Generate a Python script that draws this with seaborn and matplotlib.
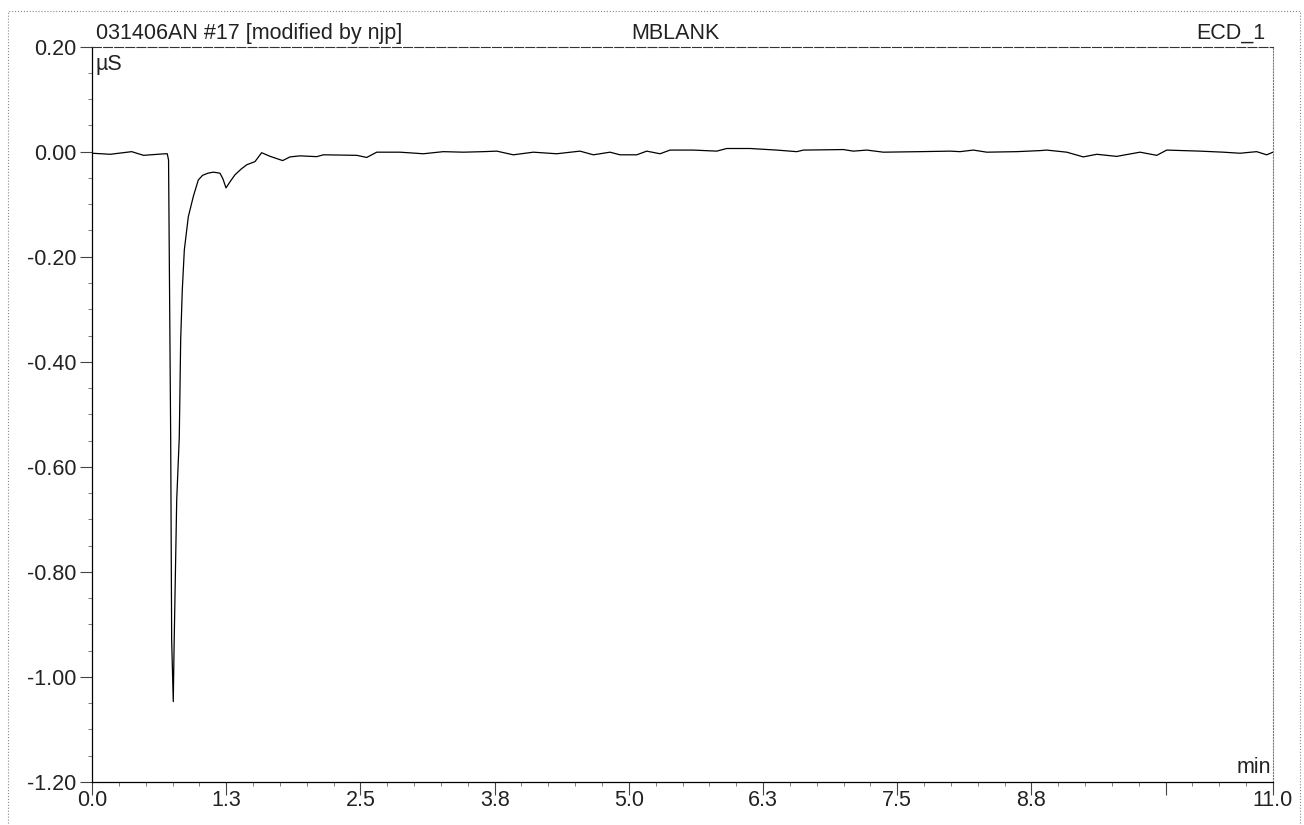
import numpy as np
import pandas as pd
import matplotlib
matplotlib.use("Agg")
import matplotlib.pyplot as plt
import seaborn as sns
from matplotlib.patches import Rectangle
from matplotlib.ticker import FixedLocator, MultipleLocator

# Chromatogram trace (time in min, signal in uS)
time_min = [
    0.00, 0.17, 0.37, 0.48, 0.68, 0.701, 0.713, 0.733, 0.742, 0.757,
    0.764, 0.789, 0.813, 0.826, 0.841, 0.860, 0.897, 0.944, 0.990, 1.030,
    1.080, 1.130, 1.192, 1.220, 1.248, 1.290, 1.332, 1.390, 1.441, 1.518,
    1.580, 1.660, 1.776, 1.844, 1.937,
    2.093, 2.155, 2.466, 2.559, 2.652, 2.869, 3.086, 3.272, 3.459, 3.645,
    3.770, 3.924, 4.111, 4.328, 4.545, 4.670, 4.825, 4.918, 4.949, 5.074,
    5.167, 5.291, 5.384, 5.601, 5.819, 5.912, 6.129, 6.378, 6.564, 6.626,
    6.998, 7.091, 7.216, 7.371, 7.713, 7.992, 8.085, 8.209, 8.334, 8.613,
    8.830, 8.892, 9.079, 9.233, 9.358, 9.544, 9.761, 9.917, 10.010, 10.320,
    10.537, 10.693, 10.848, 10.941, 11.000,
]
signal_us = [
    -0.003, -0.005, 0.000, -0.007, -0.004, -0.004, -0.016, -0.549, -0.930, -1.047,
    -0.949, -0.663, -0.543, -0.358, -0.263, -0.187, -0.124, -0.085, -0.054, -0.045,
    -0.041, -0.039, -0.041, -0.052, -0.069, -0.056, -0.044, -0.033, -0.025, -0.019,
    -0.002, -0.009, -0.017, -0.010, -0.008,
    -0.0095, -0.006, -0.007, -0.011, -0.001, -0.001, -0.004, 0.000, -0.001, 0.000,
    0.001, -0.006, -0.001, -0.004, 0.001, -0.006, -0.001, -0.006, -0.006, -0.006,
    0.001, -0.004, 0.003, 0.003, 0.001, 0.006, 0.006, 0.003, 0.000, 0.003,
    0.004, 0.001, 0.003, -0.001, 0.000, 0.001, 0.000, 0.003, -0.001, 0.000,
    0.002, 0.003, -0.001, -0.010, -0.005, -0.009, -0.001, -0.007, 0.003, 0.001,
    -0.001, -0.003, 0.000, -0.006, -0.001,
]

x_ticks = [0.0, 1.25, 2.5, 3.75, 5.0, 6.25, 7.5, 8.75, 10.0, 11.0]
x_tick_labels = ["0.0", "1.3", "2.5", "3.8", "5.0", "6.3", "7.5", "8.8", "", "11.0"]
y_ticks = [0.20, 0.00, -0.20, -0.40, -0.60, -0.80, -1.00, -1.20]
y_tick_labels = ["0.20", "0.00", "-0.20", "-0.40", "-0.60", "-0.80", "-1.00", "-1.20"]

df = pd.DataFrame({"time": time_min, "signal": signal_us})

sns.set_style("ticks")
plt.rcParams["font.family"] = ["Liberation Sans", "DejaVu Sans"]
fs = 15.5

fig = plt.figure(figsize=(13.04, 8.25), dpi=100)
ax = fig.add_axes([92 / 1304, 1 - 782 / 825, (1273 - 92) / 1304, (782 - 46.6) / 825])

sns.lineplot(data=df, x="time", y="signal", color="black", linewidth=0.9, ax=ax)

ax.set_xlim(0, 11)
ax.set_ylim(-1.2, 0.2)
ax.set_xlabel("")
ax.set_ylabel("")

ax.xaxis.set_major_locator(FixedLocator(x_ticks))
ax.set_xticklabels(x_tick_labels)
ax.xaxis.set_minor_locator(MultipleLocator(0.25))
ax.yaxis.set_major_locator(FixedLocator(y_ticks))
ax.set_yticklabels(y_tick_labels)
ax.yaxis.set_minor_locator(MultipleLocator(0.05))

ax.tick_params(axis="both", which="major", direction="out", length=9, width=0.8,
               color="#444444", labelsize=fs, labelcolor="#222222")
ax.tick_params(axis="x", which="major", pad=-3)
ax.tick_params(axis="y", which="major", pad=2)
ax.tick_params(axis="both", which="minor", direction="out", length=3, width=0.6,
               color="#666666")

for side in ["left", "bottom"]:
    ax.spines[side].set_color("black")
    ax.spines[side].set_linewidth(0.9)
ax.spines["top"].set_visible(True)
ax.spines["top"].set_linestyle((0, (8, 2)))
ax.spines["top"].set_color("#333333")
ax.spines["top"].set_linewidth(0.8)
ax.spines["right"].set_visible(True)
ax.spines["right"].set_linestyle(":")
ax.spines["right"].set_color("#777777")
ax.spines["right"].set_linewidth(0.8)

# header texts above the plot
ax.text(0.003, 1.011, "031406AN #17 [modified by njp]", transform=ax.transAxes,
        ha="left", va="baseline", fontsize=fs, color="#222222")
ax.text(0.494, 1.011, "MBLANK", transform=ax.transAxes,
        ha="center", va="baseline", fontsize=fs, color="#222222")
ax.text(0.9935, 1.011, "ECD_1", transform=ax.transAxes,
        ha="right", va="baseline", fontsize=fs, color="#222222")

# units inside the frame
ax.text(0.003, 0.99, "µS", transform=ax.transAxes,
        ha="left", va="top", fontsize=fs, color="#222222")
ax.text(0.9985, 0.006, "min", transform=ax.transAxes,
        ha="right", va="bottom", fontsize=fs, color="#222222")

# dotted outer border of the printout
fig.patches.append(Rectangle((8 / 1304, -0.01), (1300 - 8) / 1304, 1 - 11 / 825 + 0.01,
                             transform=fig.transFigure, fill=False, linestyle=":",
                             edgecolor="#888888", linewidth=0.8))

fig.savefig("out.png", dpi=100)
